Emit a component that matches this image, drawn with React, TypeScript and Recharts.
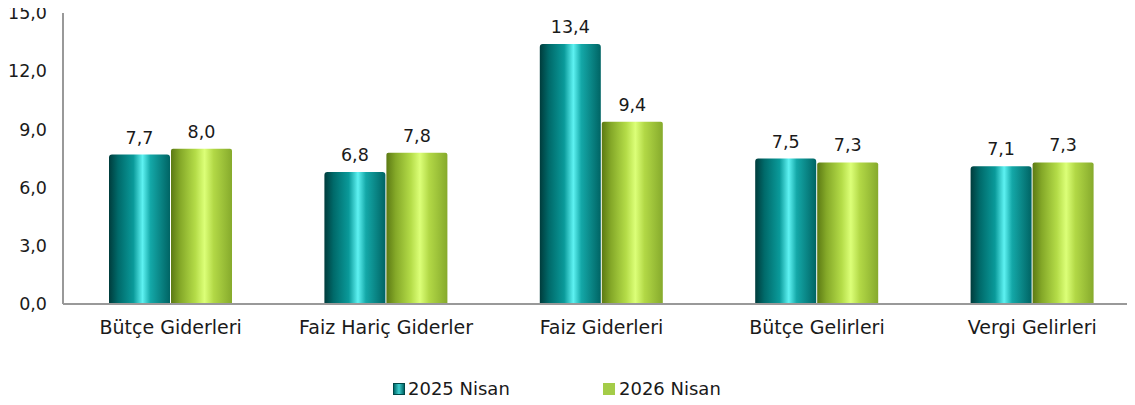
import React from "react";
import { BarChart, Bar, XAxis, YAxis, LabelList } from "recharts";

const categories = ["Bütçe Giderleri", "Faiz Hariç Giderler", "Faiz Giderleri", "Bütçe Gelirleri", "Vergi Gelirleri"];
const series2025 = [7.7, 6.8, 13.4, 7.5, 7.1];
const series2026 = [8.0, 7.8, 9.4, 7.3, 7.3];
const yTicks = [0, 3, 6, 9, 12, 15];
const seriesNames = ["2025 Nisan", "2026 Nisan"];

const data = categories.map((c, i) => ({ name: c, a: series2025[i], b: series2026[i] }));

const FONT = "'DejaVu Sans', sans-serif";
const fmt = (v: number) => v.toFixed(1).replace(".", ",");

export default function App() {
  return (
    <div style={{ position: "relative", width: 1127, height: 405, marginTop: -8, overflow: "hidden", fontFamily: FONT }}>
      <BarChart
        width={1140}
        height={405}
        data={data}
        margin={{ top: 13, right: 8, left: 0, bottom: 61 }}
        barGap={1}
        barSize={61}
      >
        <defs>
          <linearGradient id="gTeal" x1="0" y1="0" x2="1" y2="0">
            <stop offset="0%" stopColor="#003c3c" />
            <stop offset="15%" stopColor="#006a6a" />
            <stop offset="40%" stopColor="#0a9a9a" />
            <stop offset="55%" stopColor="#5ef2f2" />
            <stop offset="68%" stopColor="#14a8a8" />
            <stop offset="100%" stopColor="#006464" />
          </linearGradient>
          <linearGradient id="gGreen" x1="0" y1="0" x2="1" y2="0">
            <stop offset="0%" stopColor="#5c7a14" />
            <stop offset="15%" stopColor="#84a828" />
            <stop offset="40%" stopColor="#b4dc48" />
            <stop offset="55%" stopColor="#dcff78" />
            <stop offset="70%" stopColor="#b2d846" />
            <stop offset="100%" stopColor="#86aa2c" />
          </linearGradient>
        </defs>
        <XAxis
          dataKey="name"
          height={40}
          tickLine={false}
          tickSize={0}
          tickMargin={17}
          axisLine={{ stroke: "#999999", strokeWidth: 2 }}
          tick={{ fill: "#1a1a1a", fontSize: 19, fontFamily: FONT }}
          interval={0}
        />
        <YAxis
          width={55}
          domain={[0, 15]}
          ticks={yTicks}
          tickFormatter={fmt}
          tickLine={false}
          tickSize={0}
          tickMargin={16}
          axisLine={{ stroke: "#999999", strokeWidth: 2 }}
          tick={{ fill: "#1a1a1a", fontSize: 17.5, fontFamily: FONT }}
          interval={0}
        />
        <Bar dataKey="a" name={seriesNames[0]} fill="url(#gTeal)" radius={[3, 3, 0, 0]} isAnimationActive={false}>
          <LabelList dataKey="a" position="top" offset={11} formatter={(v: any) => fmt(Number(v))} style={{ fill: "#1a1a1a", fontSize: 17.5, fontFamily: FONT }} />
        </Bar>
        <Bar dataKey="b" name={seriesNames[1]} fill="url(#gGreen)" radius={[2, 2, 0, 0]} isAnimationActive={false}>
          <LabelList dataKey="b" position="top" offset={11} formatter={(v: any) => fmt(Number(v))} style={{ fill: "#1a1a1a", fontSize: 17.5, fontFamily: FONT }} />
        </Bar>
      </BarChart>
      <div style={{ position: "absolute", top: 378, left: 0, width: 1127, height: 22, fontSize: 18, color: "#1a1a1a" }}>
        <div style={{ position: "absolute", left: 385, top: 0, display: "flex", alignItems: "center" }}>
          <span style={{ display: "inline-block", width: 12, height: 12, background: "linear-gradient(90deg,#006a6a,#3fd0d0,#006464)", border: "1px solid #004848", boxSizing: "border-box", marginRight: 3 }} />
          <span>{seriesNames[0]}</span>
        </div>
        <div style={{ position: "absolute", left: 595, top: 0, display: "flex", alignItems: "center" }}>
          <span style={{ display: "inline-block", width: 12, height: 12, background: "#a4cc48", marginRight: 4 }} />
          <span>{seriesNames[1]}</span>
        </div>
      </div>
    </div>
  );
}
